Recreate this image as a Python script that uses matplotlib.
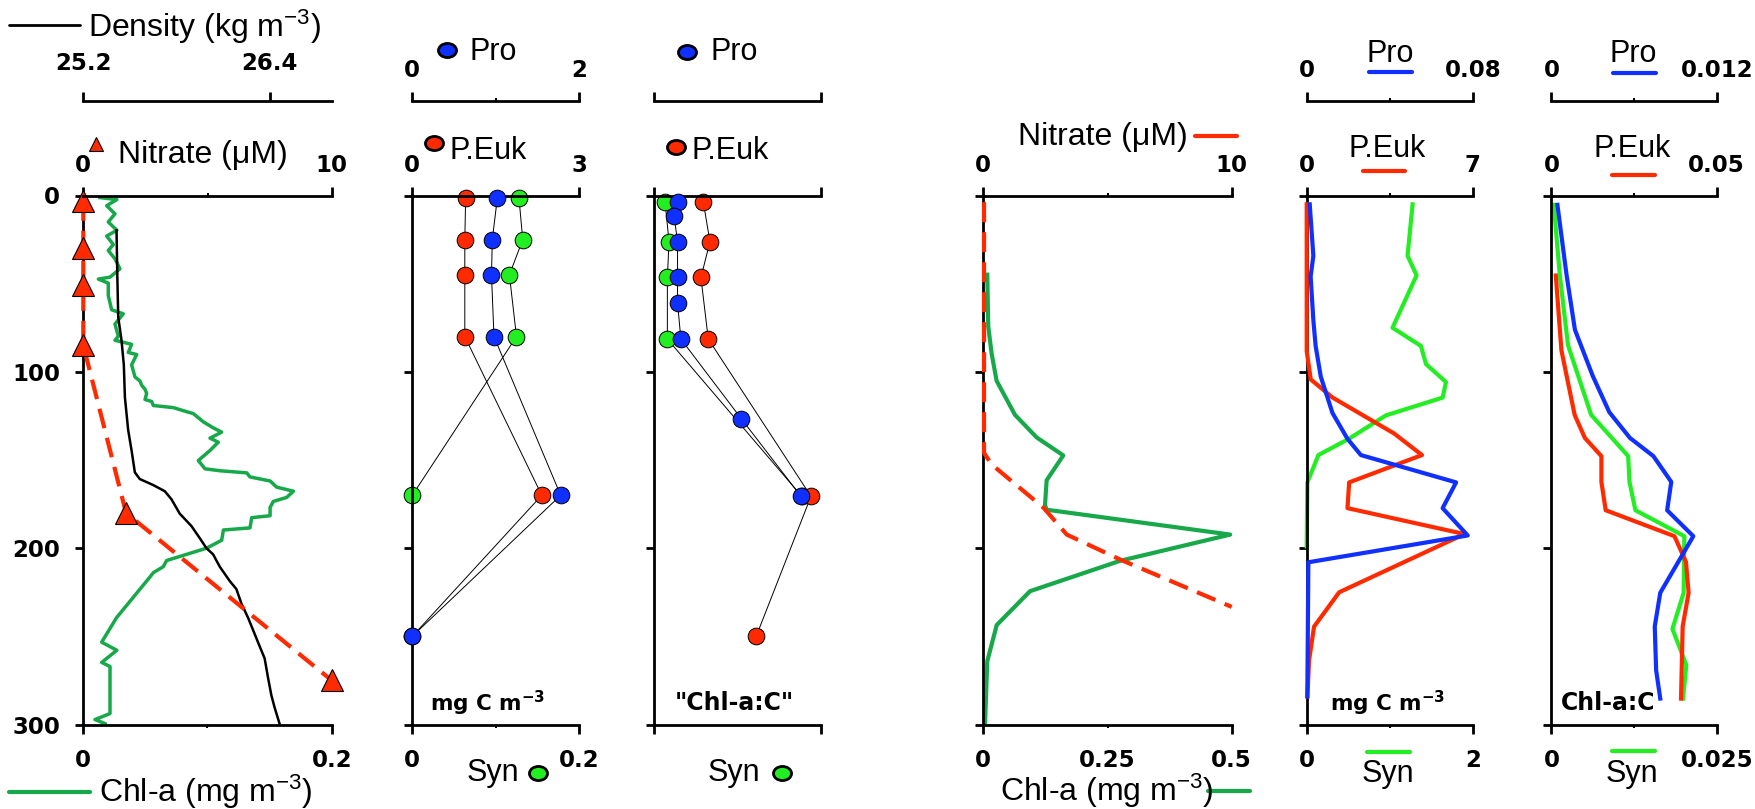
import matplotlib
matplotlib.use("Agg")
import matplotlib.pyplot as plt
from matplotlib.lines import Line2D
from matplotlib.path import Path
from matplotlib.transforms import Affine2D

# ---------------- data ----------------
# Panel 1: CTD profile
chl_ctd_depth = [1.2, 2.3, 5.8, 10.4, 15, 19.7, 23, 27.8, 31.2, 35.9, 41.6, 46.3, 47.4, 49.7,
                 56.7, 64.8, 67.1, 72.9, 79.8, 82.1, 84.4, 89, 90.2, 96, 102.9, 105.2, 107.6,
                 109.9, 112.2, 115.7, 116.8, 119.1, 120.3, 122.6, 123.7, 128.4, 131.8, 134.2,
                 137.6, 139.9, 144.6, 150.3, 155, 156.1, 157.3, 159.6, 161.9, 165.4, 167.7,
                 171.2, 173.5, 176.9, 181.6, 182.7, 188.5, 189.7, 195.5, 200, 203.5, 207,
                 210.5, 213.9, 216.3, 227.8, 239.4, 253.3, 257.9, 264.8, 267.1, 293.8, 297.2, 299.5]
chl_ctd = [0.0134, 0.027, 0.0188, 0.0255, 0.0201, 0.027, 0.0188, 0.0242, 0.0201, 0.0255, 0.0295,
           0.0215, 0.0121, 0.0201, 0.0201, 0.0228, 0.0322, 0.0255, 0.0282, 0.0255, 0.0389, 0.0362,
           0.043, 0.0389, 0.0416, 0.0456, 0.047, 0.0497, 0.051, 0.0497, 0.055, 0.0564, 0.0725,
           0.0832, 0.0886, 0.0967, 0.1047, 0.1114, 0.102, 0.1087, 0.102, 0.0926, 0.098, 0.1101,
           0.1316, 0.1342, 0.1504, 0.1557, 0.1692, 0.1638, 0.153, 0.1504, 0.1504, 0.1356, 0.1342,
           0.1128, 0.1114, 0.0993, 0.0832, 0.0671, 0.0644, 0.0564, 0.0537, 0.0403, 0.0268, 0.0148,
           0.027, 0.0148, 0.0215, 0.0215, 0.0094, 0.0175]
dens_depth = [19.7, 45, 69, 82, 96, 114.5, 133, 144.6, 157, 160.8, 164.2, 167.7, 172.3, 180.4,
              187.4, 194.3, 200, 203.5, 210.5, 218.6, 223.2, 231.3, 239.4, 246.3, 253.3, 262.5,
              273, 283.3, 290.3, 299.5]
density = [25.414, 25.419, 25.425, 25.446, 25.461, 25.468, 25.489, 25.511, 25.532, 25.564, 25.65,
           25.725, 25.768, 25.821, 25.896, 25.95, 25.993, 26.036, 26.079, 26.143, 26.186, 26.218,
           26.261, 26.293, 26.325, 26.368, 26.389, 26.411, 26.432, 26.464]
no3_bottle_depth = [3, 30, 51, 85, 180, 275]
no3_bottle = [0, 0, 0, 0, 1.72, 10]

# Panel 2: carbon biomass, mg C m-3
cell_depth = [1.5, 25, 45, 80, 170, 250]
pro_carbon = [1.02, 0.96, 0.95, 0.98, 1.78, 0.0]
peuk_carbon = [0.96, 0.945, 0.945, 0.945, 2.33, 0.0]
syn_carbon_depth = [1.5, 25, 45, 80, 170]
syn_carbon = [0.128, 0.1325, 0.1165, 0.125, 0.0]

# Panel 3: relative Chl-a:C
pro_ratio_depth = [3.5, 11.6, 26.2, 46.5, 61, 81.4, 126.5, 170.6]
pro_ratio = [0.145, 0.12, 0.141, 0.141, 0.141, 0.161, 0.522, 0.88]
peuk_ratio_depth = [3.5, 26.2, 46.5, 81.4, 170.6, 250]
peuk_ratio = [0.295, 0.335, 0.281, 0.325, 0.94, 0.612]
syn_ratio_depth = [3.5, 26.2, 46.5, 81.4, 170.6]
syn_ratio = [0.066, 0.09, 0.08, 0.08, 0.885]

# Panel 4: modelled nitrate and Chl-a
no3_model_depth = [3.8, 50, 100, 146, 152.6, 177, 192.3, 206.4, 233.3]
no3_model = [0.03, 0.03, 0.03, 0.03, 0.34, 2.42, 3.36, 5.5, 10]
chl_model_depth = [44.9, 74.4, 89.7, 105.1, 124.4, 137.2, 147.4, 161.5, 175.6, 178.2, 192.3,
                   207.2, 224.4, 243.6, 264.1, 300]
chl_model = [0.008, 0.010, 0.0168, 0.0268, 0.0638, 0.1074, 0.161, 0.1275, 0.1242, 0.1275, 0.497,
             0.275, 0.094, 0.027, 0.008, 0.0034]

# Panel 5: modelled carbon, mg C m-3
pro_mc_depth = [5, 34.2, 45.9, 70.7, 85.3, 102.8, 123.3, 137.9, 147.2, 162.7, 177.3, 192.8, 208, 284]
pro_mc = [0.00145, 0.0032, 0.0019, 0.0032, 0.0043, 0.0068, 0.0124, 0.0196, 0.0261, 0.072, 0.0655,
          0.0776, 0.0008, 0.0003]
peuk_mc_depth = [5, 35.6, 88.2, 104.3, 114.5, 135, 147.2, 162.7, 177.3, 192, 225, 244.5, 263.5, 284]
peuk_mc = [0.0, 0.0, 0.0, 0.17, 1.08, 3.69, 4.86, 1.79, 1.72, 6.65, 1.37, 0.31, 0.1, 0.03]
syn_mc_depth = [5, 34.2, 45.3, 75, 85.3, 95.6, 105.8, 114.6, 124.7, 137.9, 147.2, 162.7, 199]
syn_mc = [1.276, 1.215, 1.324, 1.034, 1.376, 1.437, 1.678, 1.638, 0.954, 0.511, 0.141, 0.008, 0.0]

# Panel 6: modelled Chl-a:C
pro_mr_depth = [5.3, 45.4, 76.1, 102.4, 122.9, 137.5, 147.8, 162.4, 178.5, 193.2, 225.3, 244.4, 269.2, 285.3]
pro_mr = [0.00043, 0.0011, 0.0017, 0.003, 0.0042, 0.0057, 0.0074, 0.0087, 0.0084, 0.0103, 0.0079,
          0.0075, 0.0076, 0.0079]
peuk_mr_depth = [45.4, 87.8, 124.4, 137.5, 147.8, 162.4, 178.5, 193.2, 207.8, 225.3, 244.4, 285.3]
peuk_mr = [0.0013, 0.003, 0.007, 0.0101, 0.0151, 0.0151, 0.0164, 0.0372, 0.0407, 0.0415, 0.0397, 0.0392]
syn_mr_depth = [5.3, 45.4, 84.9, 124.4, 147.8, 162.4, 178.5, 193.2, 225.3, 245.8, 266.3, 285.3]
syn_mr = [0.00035, 0.00126, 0.0025, 0.006, 0.0116, 0.0118, 0.0127, 0.0201, 0.02, 0.0183, 0.0204, 0.0199]

depth_ticks = [0, 100, 200, 300]
depth_labels = ["0", "100", "200", "300"]

# ---------------- style ----------------
plt.rcParams["font.family"] = "DejaVu Sans"
plt.rcParams["font.weight"] = "bold"
plt.rcParams["mathtext.default"] = "regular"

CHL_GREEN = "#17a84a"
LIME = "#22ee22"
RED = "#ff2a00"
BLUE = "#1030ff"
TICK_FS = 16.5
REG = "Liberation Sans"

W, H = 1756, 809
TOP, BOT = 195.5, 724.5
OUTER_PT = (TOP - 100.5) * 72 / 100

fig = plt.figure(figsize=(W / 100, H / 100), dpi=100)


def fx(x):
    return x / W


def fy(y):
    return 1 - y / H


def style_top(axt, lim, ticks, labels, mid, pad=7, outer=False):
    axt.set_xlim(*lim)
    for s in ("bottom", "left", "right"):
        axt.spines[s].set_visible(False)
    axt.spines["top"].set_linewidth(2)
    if outer:
        axt.spines["top"].set_position(("outward", OUTER_PT))
    axt.set_xticks(ticks, labels=labels)
    if mid is not None:
        axt.set_xticks([mid], minor=True)
    axt.tick_params(axis="x", which="major", direction="out", length=6.5, width=2,
                    pad=pad, labelsize=TICK_FS)
    axt.tick_params(axis="x", which="minor", direction="out", length=2, width=1.5)


def panel(left, right, blim, bticks, blabels, bmid):
    ax = fig.add_axes([left / W, 1 - BOT / H, (right - left) / W, (BOT - TOP) / H])
    ax.set_facecolor("none")
    ax.set_ylim(300, 0)
    for s in ("top", "right"):
        ax.spines[s].set_visible(False)
    for s in ("left", "bottom"):
        ax.spines[s].set_linewidth(2)
    ax.set_yticks(depth_ticks, labels=depth_labels)
    ax.tick_params(axis="y", direction="out", length=6, width=2, pad=10.8,
                   labelsize=TICK_FS, labelleft=False)
    ax.set_xlim(*blim)
    ax.set_xticks(bticks, labels=blabels)
    if bmid is not None:
        ax.set_xticks([bmid], minor=True)
    ax.tick_params(axis="x", which="major", direction="out", length=6.5, width=2,
                   pad=11, labelsize=TICK_FS)
    ax.tick_params(axis="x", which="minor", direction="out", length=2, width=1.5)
    return ax


def text(x, y, s, size=23, ha="left", va="baseline", bold=False):
    fig.text(fx(x), fy(y), s, fontsize=size, ha=ha, va=va,
             family="DejaVu Sans" if bold else REG,
             weight="bold" if bold else "normal")


def key_line(x1, x2, y, color, lw=3):
    fig.add_artist(Line2D([fx(x1), fx(x2)], [fy(y), fy(y)], transform=fig.transFigure,
                          color=color, lw=lw, solid_capstyle="round"))


ELLIPSE = Path.unit_circle().transformed(Affine2D().scale(1.0, 0.78))


def key_marker(x, y, color, marker=ELLIPSE, ms=13, mew=2):
    fig.add_artist(Line2D([fx(x)], [fy(y)], transform=fig.transFigure, marker=marker,
                          ms=ms, mfc=color, mec="black", mew=mew, lw=0))


def dots(ax, x, y, color):
    ax.plot(x, y, "-o", color="black", lw=0.7, ms=12, mfc=color, mec="black",
            mew=0.7, clip_on=False)


# ---------------- panel 1 ----------------
ax1 = panel(83.3, 331.7, (0, 0.2), [0, 0.2], ["0", "0.2"], 0.1)
ax1.tick_params(axis="y", labelleft=True)
ax1.plot(chl_ctd, chl_ctd_depth, color=CHL_GREEN, lw=2.5, clip_on=False)
den1 = ax1.twiny()
style_top(den1, (25.2, 26.8), [25.2, 26.4], ["25.2", "26.4"], None, pad=11.7, outer=True)
den1.plot(density, dens_depth, color="black", lw=1.8, clip_on=False)
nit1 = ax1.twiny()
style_top(nit1, (0, 10), [0, 10], ["0", "10"], 5)
nit1.plot(no3_bottle, no3_bottle_depth, color=RED, lw=3, ls=(0, (4.8, 2.4)),
          marker="^", ms=16, mfc=RED, mec="black", mew=0.8, clip_on=False)

key_line(9, 80, 25, "black", lw=2)
text(88, 37.5, r"Density (kg m$^{-3}$)")
key_marker(95.7, 144, RED, marker="^", ms=10.5, mew=0.8)
text(118, 163, "Nitrate (\u03bcM)")
key_line(9, 90, 791.7, CHL_GREEN, lw=3)
text(99, 801.7, r"Chl-a (mg m$^{-3}$)")

# ---------------- panel 2 ----------------
ax2 = panel(412.3, 579, (0, 0.2), [0, 0.2], ["0", "0.2"], 0.1)
dots(ax2, syn_carbon, syn_carbon_depth, LIME)
p2 = ax2.twiny()
style_top(p2, (0, 3), [0, 3], ["0", "3"], 1.5)
dots(p2, peuk_carbon, cell_depth, RED)
q2 = ax2.twiny()
style_top(q2, (0, 2), [0, 2], ["0", "2"], 1, outer=True)
dots(q2, pro_carbon, cell_depth, BLUE)

key_marker(447, 50, BLUE)
text(470, 60.5, "Pro", size=22)
key_marker(434, 142.7, RED)
text(450, 159, "P.Euk", size=22)
text(488, 703, r"mg C m$^{-3}$", size=15.5, ha="center", va="center", bold=True)
text(467, 781, "Syn", size=22)
key_marker(538, 773, LIME)

# ---------------- panel 3 ----------------
ax3 = panel(654, 821, (0, 1), [0, 1], ["", ""], None)
dots(ax3, syn_ratio, syn_ratio_depth, LIME)
p3 = ax3.twiny()
style_top(p3, (0, 1), [0, 1], ["", ""], None)
dots(p3, peuk_ratio, peuk_ratio_depth, RED)
q3 = ax3.twiny()
style_top(q3, (0, 1), [0, 1], ["", ""], None, outer=True)
dots(q3, pro_ratio, pro_ratio_depth, BLUE)

key_marker(687, 51.5, BLUE)
text(711, 60.5, "Pro", size=22)
key_marker(676, 147, RED)
text(692, 159, "P.Euk", size=22)
text(734, 703, "\"Chl-a:C\"", size=17, ha="center", va="center", bold=True)
text(708, 781, "Syn", size=22)
key_marker(782, 773, LIME)

# ---------------- panel 4 ----------------
ax4 = panel(983.3, 1231.7, (0, 0.5), [0, 0.5], ["0", "0.5"], None)
ax4.set_xticks([0.25], labels=["0.25"], minor=True)
ax4.tick_params(axis="x", which="minor", length=2.5, pad=15, labelsize=TICK_FS)
ax4.plot(chl_model, chl_model_depth, color=CHL_GREEN, lw=3, clip_on=False)
n4 = ax4.twiny()
style_top(n4, (0, 10), [0, 10], ["0", "10"], 5)
n4.plot(no3_model, no3_model_depth, color=RED, lw=3, ls=(0, (4.8, 2.4)), clip_on=False)

text(1018, 145, "Nitrate (\u03bcM)")
key_line(1195, 1237, 136, RED, lw=3)
text(1000, 801, r"Chl-a (mg m$^{-3}$)")
key_line(1208, 1250, 791, CHL_GREEN, lw=3)

# ---------------- panel 5 ----------------
ax5 = panel(1306.7, 1472.7, (0, 2), [0, 2], ["0", "2"], 1)
ax5.plot(syn_mc, syn_mc_depth, color=LIME, lw=3, clip_on=False)
p5 = ax5.twiny()
style_top(p5, (0, 7), [0, 7], ["0", "7"], 3.5)
p5.plot(peuk_mc, peuk_mc_depth, color=RED, lw=3, clip_on=False)
q5 = ax5.twiny()
style_top(q5, (0, 0.08), [0, 0.08], ["0", "0.08"], 0.04, outer=True)
q5.plot(pro_mc, pro_mc_depth, color=BLUE, lw=3, clip_on=False)

text(1390, 61.7, "Pro", size=22, ha="center")
key_line(1369, 1412, 72, BLUE)
text(1387, 156.7, "P.Euk", size=22, ha="center")
key_line(1363, 1405, 171, RED)
text(1388, 703, r"mg C m$^{-3}$", size=15.5, ha="center", va="center", bold=True)
key_line(1367, 1410, 751.7, LIME)
text(1388, 781.7, "Syn", size=22, ha="center")

# ---------------- panel 6 ----------------
ax6 = panel(1551.5, 1716.7, (0, 0.025), [0, 0.025], ["0", "0.025"], 0.0125)
ax6.plot(syn_mr, syn_mr_depth, color=LIME, lw=3, clip_on=False)
p6 = ax6.twiny()
style_top(p6, (0, 0.05), [0, 0.05], ["0", "0.05"], 0.025)
p6.plot(peuk_mr, peuk_mr_depth, color=RED, lw=3, clip_on=False)
q6 = ax6.twiny()
style_top(q6, (0, 0.012), [0, 0.012], ["0", "0.012"], 0.006, outer=True)
q6.plot(pro_mr, pro_mr_depth, color=BLUE, lw=3, clip_on=False)

text(1633, 61.7, "Pro", size=22, ha="center")
key_line(1613, 1656, 73, BLUE)
text(1632, 156.7, "P.Euk", size=22, ha="center")
key_line(1612, 1655, 175, RED)
text(1561, 703, "Chl-a:C", size=17, ha="left", va="center", bold=True)
key_line(1612, 1655, 750.7, LIME)
text(1632, 781.7, "Syn", size=22, ha="center")

fig.savefig("out.png", dpi=100)
